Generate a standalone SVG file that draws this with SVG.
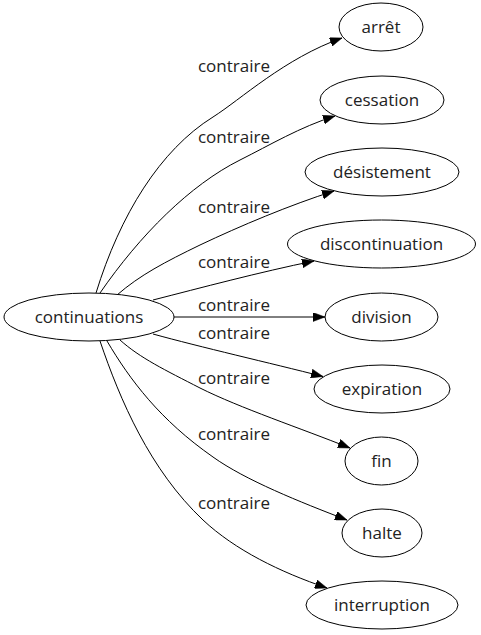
<svg xmlns="http://www.w3.org/2000/svg" width="481" height="635" viewBox="0 0 481 635">
<style>
  .node ellipse { fill: #ffffff; stroke: #000000; stroke-width: 1; }
  .node text { font-family: "Open Sans", "DejaVu Sans", sans-serif; font-size: 17px; fill: #222222; text-anchor: middle; }
  .edges path { fill: none; stroke: #000000; stroke-width: 1; marker-end: url(#arrow); }
  .edges text { font-family: "Open Sans", "DejaVu Sans", sans-serif; font-size: 17px; fill: #222222; text-anchor: middle; }
</style>
<defs>
  <marker id="arrow" markerUnits="userSpaceOnUse" markerWidth="12" markerHeight="9" viewBox="0 0 12 9" refX="12" refY="4.5" orient="auto">
    <path d="M0,0 L12,4.5 L0,9 z" fill="#000000" stroke="#000000" stroke-width="0.5"/>
  </marker>
</defs>
<rect width="481" height="635" fill="#ffffff"/>
<g id="edges" class="edges">
  <path d="M96,293 C120,215 160,150 213,117 C240,100 285,58 342,38"/>
  <text x="234" y="72">contraire</text>
  <path d="M100,293 C140,235 190,185 240,160 C270,145 300,127 335,116"/>
  <text x="234" y="143">contraire</text>
  <path d="M117,295 C140,275 165,262 200,245 C240,226 290,205 334,191"/>
  <text x="234" y="213">contraire</text>
  <path d="M153,300 C200,288 260,272 314,261"/>
  <text x="234" y="268">contraire</text>
  <path d="M174,317 L325,317"/>
  <text x="234" y="311">contraire</text>
  <path d="M153,334 C200,347 270,363 323,376.5"/>
  <text x="234" y="339">contraire</text>
  <path d="M120,340 C140,358 165,370 200,388 C240,408 300,428 350,448"/>
  <text x="234" y="384">contraire</text>
  <path d="M107,341 C130,380 160,420 213,457 C245,480 300,502 347,520"/>
  <text x="234" y="440">contraire</text>
  <path d="M100,341 C120,400 150,470 203,520 C235,550 280,572 327,588"/>
  <text x="234" y="509">contraire</text>
</g>
<g id="continuations" class="node"><ellipse cx="89" cy="317" rx="85" ry="24"/><text x="89" y="323">continuations</text></g>
<g id="arret" class="node"><ellipse cx="381" cy="27" rx="42" ry="24"/><text x="381" y="33">arrêt</text></g>
<g id="cessation" class="node"><ellipse cx="382" cy="100" rx="62" ry="24"/><text x="382" y="106">cessation</text></g>
<g id="desistement" class="node"><ellipse cx="382" cy="172" rx="77" ry="24"/><text x="382" y="178">désistement</text></g>
<g id="discontinuation" class="node"><ellipse cx="381.5" cy="244" rx="94" ry="24"/><text x="381.5" y="250">discontinuation</text></g>
<g id="division" class="node"><ellipse cx="381.5" cy="317" rx="56.5" ry="24"/><text x="381.5" y="323">division</text></g>
<g id="expiration" class="node"><ellipse cx="382" cy="389" rx="68" ry="24"/><text x="382" y="395">expiration</text></g>
<g id="fin" class="node"><ellipse cx="381.5" cy="461" rx="36.5" ry="24"/><text x="381.5" y="467">fin</text></g>
<g id="halte" class="node"><ellipse cx="382" cy="533" rx="40" ry="24"/><text x="382" y="539">halte</text></g>
<g id="interruption" class="node"><ellipse cx="382" cy="605" rx="76" ry="24"/><text x="382" y="611">interruption</text></g>
</svg>
